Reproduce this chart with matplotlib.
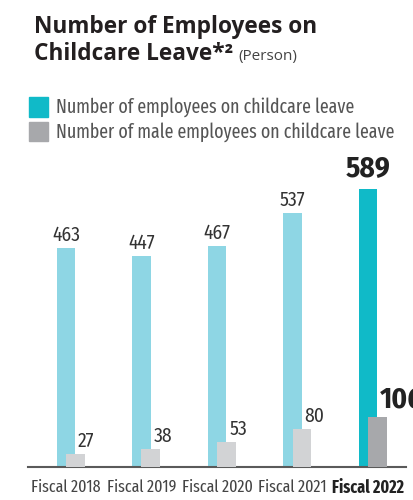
import matplotlib.pyplot as plt
from matplotlib.patches import Rectangle
import numpy as np

years = ['Fiscal 2018', 'Fiscal 2019', 'Fiscal 2020', 'Fiscal 2021', 'Fiscal 2022']
total_leave = [463, 447, 467, 537, 589]
male_leave = [27, 38, 53, 80, 106]

NARROW = ['Fira Sans Condensed', 'Archivo Narrow', 'DejaVu Sans']
XNARROW = ['Fira Sans Extra Condensed', 'Fira Sans Condensed', 'DejaVu Sans']
HEAD = ['Open Sans', 'DejaVu Sans']

W, H = 414, 500
fig = plt.figure(figsize=(W / 100, H / 100), dpi=100)

def px(x, y):
    return x / W, 1 - y / H

# plot area in pixels: left 28, right 406, top 150, baseline 467
ax = fig.add_axes([28 / W, 1 - 467 / H, 378 / W, 317 / H])
ax.set_xlim(-0.503, 4.503)
ax.set_ylim(0, 671)

x = np.arange(len(years))
blue = ['#8ed6e4'] * 4 + ['#10bac8']
grey = ['#d2d3d5'] * 4 + ['#a7a8ab']
ax.bar(x, total_leave, width=0.24, color=blue, zorder=2)
ax.bar(x + 0.125, male_leave, width=0.25, color=grey, zorder=3)

for i in range(len(years)):
    last = i == len(years) - 1
    ax.annotate(str(total_leave[i]), (x[i], total_leave[i]), xytext=(0, 6 if last else 3),
                textcoords='offset pixels', ha='center', va='bottom',
                fontsize=21 if last else 14, fontweight='bold' if last else 'normal',
                color='#222' if last else '#333', family=NARROW)
    ax.annotate(str(male_leave[i]), (x[i] + 0.16, male_leave[i]), xytext=(0, 3),
                textcoords='offset pixels', ha='left', va='bottom',
                fontsize=21 if last else 14, fontweight='bold' if last else 'normal',
                color='#222' if last else '#333', family=NARROW, annotation_clip=False)

for s in ['top', 'right', 'left']:
    ax.spines[s].set_visible(False)
ax.spines['bottom'].set_color('#5a5a5a')
ax.spines['bottom'].set_linewidth(1.5)
ax.set_yticks([])
ax.set_xticks(x)
ax.set_xticklabels(years, family=XNARROW, fontsize=12.5, color='#444')
ax.get_xticklabels()[-1].set_fontweight('bold')
ax.get_xticklabels()[-1].set_color('#222')
ax.tick_params(axis='x', length=0, pad=9)

# heading
fig.text(*px(34, 33), 'Number of Employees on', family=HEAD, fontweight='bold',
         fontsize=16.3, color='#231f20', va='baseline')
fig.text(*px(34, 60), 'Childcare Leave*²', family=HEAD, fontweight='bold',
         fontsize=16.3, color='#231f20', va='baseline')
fig.text(*px(238, 60), '(Person)', family=HEAD, fontsize=11, color='#444', va='baseline')

# legend
legend_rows = [('#10bac8', 'Number of employees on childcare leave', 107),
               ('#a7a8ab', 'Number of male employees on childcare leave', 132)]
for col, label, yc in legend_rows:
    fig.patches.append(Rectangle(px(29, yc + 9.5), 19 / W, 19 / H, color=col,
                                 transform=fig.transFigure, figure=fig))
    fig.text(*px(56, yc), label, family=XNARROW, fontsize=14, color='#555', va='center')

fig.savefig('out.png', dpi=100)
